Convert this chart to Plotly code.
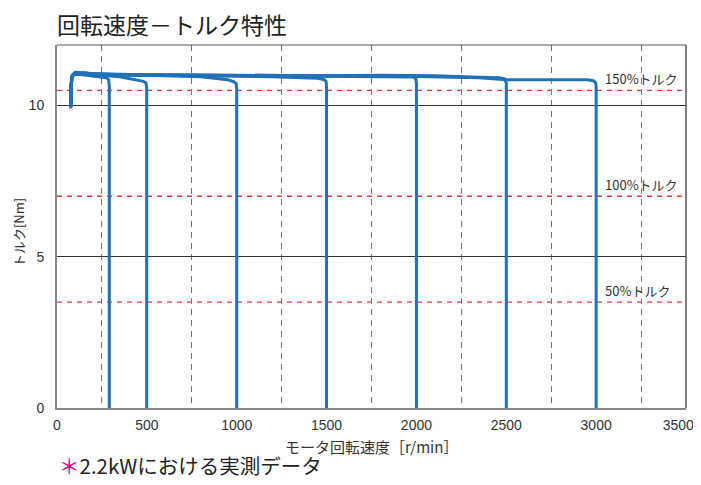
import plotly.graph_objects as go

# ---- data ----
x_ticks = [0, 500, 1000, 1500, 2000, 2500, 3000, 3500]
x_tick_text = ["0", "500", "1000", "1500", "2000", "2500", "3000",
               "3500<span style='color:rgba(0,0,0,0)'>00</span>"]
y_ticks = [0, 5, 10]
minor_x = [250, 750, 1250, 1750, 2250, 2750, 3250]
torque_levels = [3.5, 7.0, 10.5]
torque_labels = ["50%トルク", "100%トルク", "150%トルク"]

c300_x = [76, 77, 82, 95, 140, 200, 250, 275, 287, 291, 291]
c300_y = [9.9, 10.6, 10.95, 11.05, 11.02, 10.98, 10.95, 10.92, 10.85, 10.65, 0]

c500_x = [78, 79, 84, 100, 160, 250, 350, 440, 480, 494, 499, 499]
c500_y = [9.95, 10.7, 11.0, 11.1, 11.08, 11.0, 10.95, 10.85, 10.8, 10.75, 10.6, 0]

c1000_x = [77, 78, 84, 100, 200, 400, 600, 800, 950, 985, 997, 1000, 1000]
c1000_y = [9.95, 10.65, 10.98, 11.08, 11.05, 11.0, 10.98, 10.95, 10.85, 10.78, 10.72, 10.55, 0]

c1500_x = [78, 79, 86, 110, 300, 600, 900, 1200, 1450, 1485, 1497, 1500, 1500]
c1500_y = [9.95, 10.7, 11.0, 11.05, 11.02, 11.0, 10.98, 10.95, 10.9, 10.86, 10.8, 10.6, 0]

c2000_x = [78, 79, 86, 110, 400, 800, 1200, 1600, 1950, 1985, 1997, 2000, 2000]
c2000_y = [9.95, 10.7, 11.0, 11.05, 11.02, 11.0, 11.0, 10.98, 10.96, 10.94, 10.88, 10.7, 0]

c2500_x = [78, 79, 86, 110, 500, 1000, 1500, 1800, 2100, 2350, 2460, 2490, 2500, 2500]
c2500_y = [9.95, 10.7, 11.0, 11.05, 11.02, 11.0, 10.98, 11.0, 10.98, 10.93, 10.92, 10.88, 10.75, 0]

c3000_x = [78, 79, 86, 110, 500, 1000, 1500, 2000, 2350, 2500, 2950, 2985, 2997, 3000, 3000]
c3000_y = [9.95, 10.7, 11.0, 11.05, 11.02, 11.0, 10.98, 10.96, 10.92, 10.85, 10.85, 10.82, 10.75, 10.6, 0]

curves = [(c300_x, c300_y), (c500_x, c500_y), (c1000_x, c1000_y), (c1500_x, c1500_y),
          (c2000_x, c2000_y), (c2500_x, c2500_y), (c3000_x, c3000_y)]

JP = "Noto Sans CJK JP, Noto Sans, sans-serif"
NUM = "Liberation Sans, Arial, sans-serif"
BLUE = "#2170b8"
RED = "#e8383d"
FIG_H = 477

fig = go.Figure()

for lvl in torque_levels:
    fig.add_hline(y=lvl, line=dict(color=RED, width=1.3, dash="5px,5px"), layer="below")

for cx, cy in curves:
    fig.add_trace(go.Scatter(x=cx, y=cy, mode="lines",
                             line=dict(color=BLUE, width=3),
                             hoverinfo="skip", showlegend=False))

for lvl, lab in zip(torque_levels, torque_labels):
    fig.add_annotation(x=3040, y=lvl, text=lab, showarrow=False,
                       xanchor="left", yanchor="bottom", yshift=0,
                       font=dict(family=JP, size=13, color="#333"))

fig.update_layout(
    width=693, height=FIG_H,
    margin=dict(l=49, r=15, t=37, b=77),
    paper_bgcolor="white", plot_bgcolor="white",
    font=dict(family=JP, color="#333"),
    title=dict(text="回転速度－トルク特性", x=0, xref="paper", xanchor="left",
               y=1 - 18 / FIG_H, yanchor="middle", font=dict(family=JP, size=23, color="#222")),
    showlegend=False,
)

fig.update_xaxes(
    range=[0, 3500], tickvals=x_ticks, ticktext=x_tick_text,
    showgrid=False, zeroline=False, automargin=False, ticklabeloverflow="allow",
    showline=True, linecolor="#888", linewidth=2,
    ticks="", ticklabelstandoff=3, tickfont=dict(family=NUM, size=14, color="#333"),
    minor=dict(tickvals=minor_x, showgrid=True, gridcolor="#777",
               griddash="6px,5px", gridwidth=1),
)
fig.update_yaxes(
    range=[0, 12], tickvals=y_ticks, ticktext=[str(v) for v in y_ticks],
    showgrid=True, gridcolor="#333", gridwidth=1, zeroline=False, automargin=False,
    showline=True, linecolor="#888", linewidth=2,
    ticks="", ticklabelstandoff=8, tickfont=dict(family=NUM, size=14, color="#333"),
)

# frame on top and right
fig.add_shape(type="line", xref="paper", yref="paper", x0=0, x1=1, y0=1, y1=1,
              line=dict(color="#555", width=1))
fig.add_shape(type="line", xref="paper", yref="paper", x0=1, x1=1, y0=0, y1=1,
              line=dict(color="#555", width=1.5))

# axis titles
fig.add_annotation(xref="paper", yref="paper", x=0.5, y=-38 / 363, xanchor="center",
                   yanchor="middle", showarrow=False, text="モータ回転速度［r/min］",
                   font=dict(family=JP, size=15, color="#333"))
fig.add_annotation(xref="paper", yref="paper", x=-39 / 629, y=0.482, xanchor="center",
                   yanchor="middle", showarrow=False, text="トルク[Nm]", textangle=-90,
                   font=dict(family=JP, size=13, color="#333"))

fig.add_annotation(xref="paper", yref="paper", x=0, y=-57 / 363, xanchor="left", yanchor="middle",
                   showarrow=False,
                   text="<span style='color:#e4007f'>＊</span>2.2kWにおける実測データ",
                   font=dict(family=JP, size=20.5, color="#222"))

fig.write_html("out.html")
